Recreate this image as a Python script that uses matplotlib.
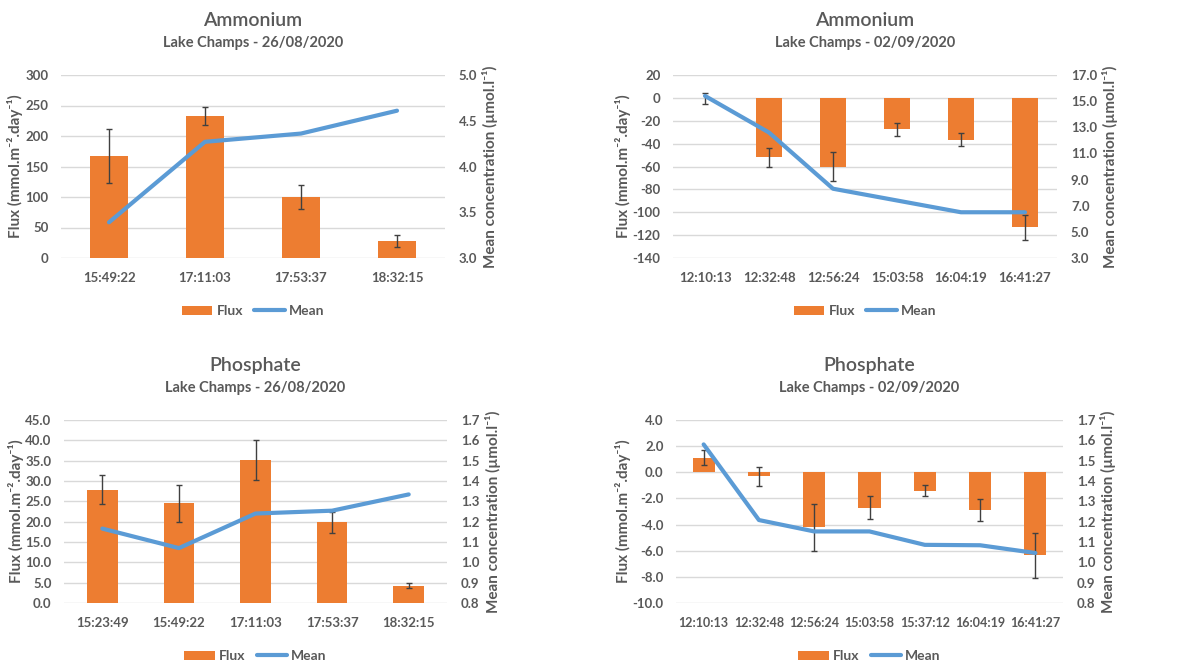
import matplotlib
matplotlib.use("Agg")
import matplotlib.pyplot as plt
import numpy as np

plt.rcParams['font.family'] = ['Lato', 'DejaVu Sans']

# Ammonium 26/08/2020
nh4_a_times = ['15:49:22', '17:11:03', '17:53:37', '18:32:15']
nh4_a_flux = [167, 233, 100, 28]
nh4_a_err = [44, 15, 19, 10]
nh4_a_mean = [3.39, 4.27, 4.36, 4.61]

# Ammonium 02/09/2020
nh4_b_times = ['12:10:13', '12:32:48', '12:56:24', '15:03:58', '16:04:19', '16:41:27']
nh4_b_flux = [-0.5, -52, -60, -27.5, -36.5, -113]
nh4_b_err = [5, 8, 13, 5.5, 5.5, 11]
nh4_b_mean = [15.4, 12.6, 8.3, 7.4, 6.5, 6.5]

# Phosphate 26/08/2020
po4_a_times = ['15:23:49', '15:49:22', '17:11:03', '17:53:37', '18:32:15']
po4_a_flux = [27.9, 24.5, 35.2, 19.8, 4.3]
po4_a_err = [3.5, 4.6, 5.0, 2.5, 0.6]
po4_a_mean = [1.166, 1.07, 1.24, 1.254, 1.334]

# Phosphate 02/09/2020
po4_b_times = ['12:10:13', '12:32:48', '12:56:24', '15:03:58', '15:37:12', '16:04:19', '16:41:27']
po4_b_flux = [1.1, -0.3, -4.2, -2.7, -1.4, -2.9, -6.35]
po4_b_err = [0.58, 0.72, 1.8, 0.9, 0.4, 0.85, 1.7]
po4_b_mean = [1.58, 1.208, 1.152, 1.152, 1.086, 1.084, 1.046]

W, H = 1183, 666
ORANGE = '#ED7D31'
BLUE = '#5B9BD5'
GREY = '#595959'

fig = plt.figure(figsize=(W / 100, H / 100), dpi=100)


def panel(box, title, subtitle, times, flux, err, mean,
          ylim, yticks, yfmt, ylim2, yticks2, lx, rx, xsize=9.5):
    left, top, right, bottom = box
    ax = fig.add_axes([left / W, 1 - bottom / H, (right - left) / W, (bottom - top) / H])
    x = np.arange(len(times))
    ax.bar(x, flux, width=0.4, color=ORANGE, label='Flux', zorder=2)
    ax.errorbar(x, flux, yerr=err, fmt='none', ecolor='#404040', elinewidth=1,
                capsize=2.5, capthick=1, zorder=3)
    ax.set_xlim(-0.5, len(times) - 0.5)
    ax.set_ylim(*ylim)
    ax.set_yticks(yticks)
    ax.set_yticklabels([yfmt.format(v) for v in yticks], fontweight='bold', fontsize=9.5)
    ax.set_xticks(x)
    ax.set_xticklabels(times, fontweight='bold', fontsize=xsize)
    ax.grid(axis='y', color='#D9D9D9', linewidth=1, zorder=0)
    ax.set_axisbelow(True)
    for s in ax.spines.values():
        s.set_visible(False)
    ax.tick_params(length=0, colors=GREY)
    ax.tick_params(axis='y', pad=9)
    ax.tick_params(axis='x', pad=10)
    ax.set_ylabel('Flux (mmol.m⁻².day⁻¹)', fontsize=11, fontweight='bold', color=GREY,
                  va='center')
    ax.yaxis.set_label_coords((lx - left) / (right - left), 0.5)

    ax2 = ax.twinx()
    ax2.plot(x, mean, color=BLUE, linewidth=3, label='Mean', solid_capstyle='round')
    ax2.set_ylim(*ylim2)
    ax2.set_yticks(yticks2)
    ax2.set_yticklabels(['{:.1f}'.format(v) for v in yticks2], fontweight='bold', fontsize=9.5)
    for s in ax2.spines.values():
        s.set_visible(False)
    ax2.tick_params(length=0, colors=GREY, pad=10)
    ax2.set_ylabel('Mean concentration (µmol.l⁻¹)', fontsize=11, fontweight='bold',
                   color=GREY, va='center')
    ax2.yaxis.set_label_coords((rx - left) / (right - left), 0.5)

    cx = (left + right) / 2 / W
    fig.text(cx, 1 - (top - 55) / H, title, ha='center', va='center',
             fontsize=14, fontweight='semibold', color=GREY)
    fig.text(cx, 1 - (top - 32) / H, subtitle, ha='center', va='center',
             fontsize=10.5, fontweight='bold', color=GREY)

    h1, l1 = ax.get_legend_handles_labels()
    h2, l2 = ax2.get_legend_handles_labels()
    leg = ax.legend(h1 + h2, l1 + l2, loc='center', ncol=2, frameon=False,
                    bbox_to_anchor=(0.5, -53 / (bottom - top)),
                    fontsize=10, handlelength=2.2, handleheight=0.6,
                    columnspacing=0.8, handletextpad=0.3)
    for t in leg.get_texts():
        t.set_color(GREY)
        t.set_fontweight('bold')
    return ax, ax2


panel((61, 75, 445, 258), 'Ammonium', 'Lake Champs - 26/08/2020',
      nh4_a_times, nh4_a_flux, nh4_a_err, nh4_a_mean,
      (0, 300), np.arange(0, 301, 50), '{:.0f}', (3.0, 5.0), np.arange(3.0, 5.01, 0.5),
      15, 490)

panel((673, 75, 1057, 258), 'Ammonium', 'Lake Champs - 02/09/2020',
      nh4_b_times, nh4_b_flux, nh4_b_err, nh4_b_mean,
      (-140, 20), np.arange(-140, 21, 20), '{:.0f}', (3.0, 17.0), np.arange(3.0, 17.01, 2.0),
      623, 1110)

panel((64, 420, 447, 603), 'Phosphate', 'Lake Champs - 26/08/2020',
      po4_a_times, po4_a_flux, po4_a_err, po4_a_mean,
      (0, 45), np.arange(0, 45.01, 5), '{:.1f}', (0.8, 1.7), np.arange(0.8, 1.701, 0.1),
      16, 493)

panel((676, 420, 1063, 603), 'Phosphate', 'Lake Champs - 02/09/2020',
      po4_b_times, po4_b_flux, po4_b_err, po4_b_mean,
      (-10, 4), np.arange(-10, 4.01, 2), '{:.1f}', (0.8, 1.7), np.arange(0.8, 1.701, 0.1),
      623, 1108, xsize=9)

fig.savefig('out.png', dpi=100)
